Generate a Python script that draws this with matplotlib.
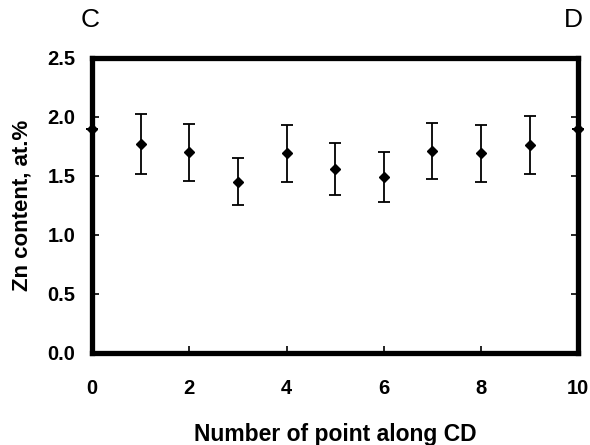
import numpy as np
import matplotlib.pyplot as plt

# Zn content along line CD
points = [0, 1, 2, 3, 4, 5, 6, 7, 8, 9, 10]
zn = [1.90, 1.77, 1.70, 1.45, 1.69, 1.56, 1.49, 1.71, 1.69, 1.76, 1.90]
err_low = [0.0, 0.25, 0.24, 0.20, 0.24, 0.22, 0.21, 0.24, 0.24, 0.24, 0.0]
err_high = [0.0, 0.25, 0.24, 0.20, 0.24, 0.22, 0.21, 0.24, 0.24, 0.25, 0.0]

plt.rcParams['font.family'] = ['Liberation Sans', 'DejaVu Sans']

fig = plt.figure(figsize=(5.9, 4.45), dpi=100)
ax = fig.add_axes([0.156, 0.207, 0.824, 0.663])

ax.errorbar(points, zn, yerr=[err_low, err_high], fmt='D', color='black',
            markersize=5.5, ecolor='black', elinewidth=1.3, capsize=4,
            capthick=1.3, clip_on=False, zorder=3)

ax.set_xlim(0, 10)
ax.set_ylim(0, 2.5)
ax.set_xticks([0, 2, 4, 6, 8, 10])
ax.set_yticks([0.0, 0.5, 1.0, 1.5, 2.0, 2.5])
ax.set_yticklabels(['0.0', '0.5', '1.0', '1.5', '2.0', '2.5'])

for s in ax.spines.values():
    s.set_linewidth(3.8)

ax.tick_params(axis='both', direction='in', length=5, width=1.2,
               labelsize=14.5, right=True)
ax.tick_params(axis='x', pad=19)
ax.tick_params(axis='y', pad=12)
for lab in ax.get_xticklabels() + ax.get_yticklabels():
    lab.set_fontweight('bold')

ax.set_xlabel('Number of point along CD', fontsize=16.5, fontweight='bold',
              va='center')
ax.xaxis.set_label_coords(0.5, -0.275)
ax.set_ylabel('Zn content, at.%', fontsize=16, fontweight='bold',
              va='center')
ax.yaxis.set_label_coords(-0.145, 0.5)

fig.text(0.153, 0.955, 'C', fontsize=19, ha='center', va='center')
fig.text(0.972, 0.955, 'D', fontsize=19, ha='center', va='center')

fig.savefig('out.png', dpi=100)
